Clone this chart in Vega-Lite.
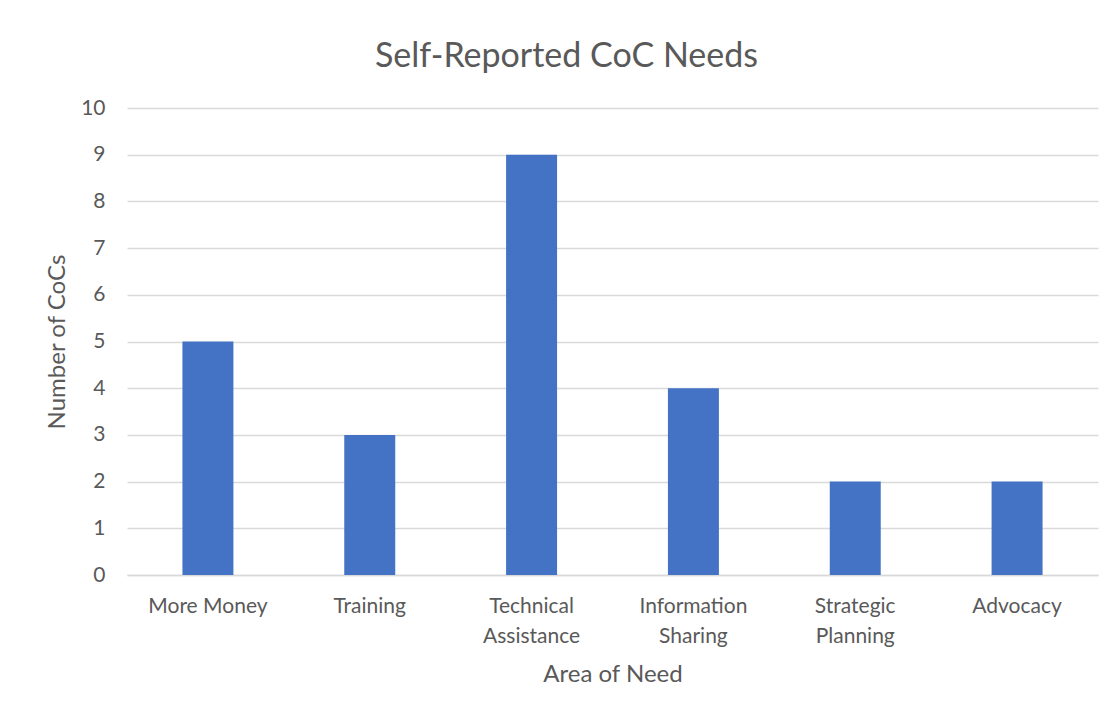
{
  "$schema": "https://vega.github.io/schema/vega-lite/v6.json",
  "width": 971,
  "height": 467,
  "autosize": {"type": "none"},
  "padding": {"left": 127, "top": 108, "right": 19, "bottom": 143},
  "background": "white",
  "title": {
    "text": "Self-Reported CoC Needs",
    "fontSize": 34,
    "font": "Lato",
    "fontWeight": "normal",
    "color": "#595959",
    "anchor": "middle",
    "dx": -46,
    "offset": 23
  },
  "data": {
    "values": [
      {"need": "More Money", "count": 5},
      {"need": "Training", "count": 3},
      {"need": "Technical Assistance", "count": 9},
      {"need": "Information Sharing", "count": 4},
      {"need": "Strategic Planning", "count": 2},
      {"need": "Advocacy", "count": 2}
    ]
  },
  "mark": {"type": "bar", "color": "#4472C4"},
  "encoding": {
    "x": {
      "field": "need",
      "type": "nominal",
      "sort": null,
      "scale": {"paddingInner": 0.685, "paddingOuter": 0.3425},
      "axis": {
        "title": "Area of Need",
        "labelAngle": 0,
        "labelExpr": "datum.label == 'More Money' ? datum.label : split(datum.label, ' ')",
        "labelLineHeight": 30,
        "labelPadding": 20,
        "labelBaseline": "top",
        "ticks": false,
        "domainColor": "#d9d9d9",
        "domainWidth": 1.5,
        "titlePadding": 16
      }
    },
    "y": {
      "field": "count",
      "type": "quantitative",
      "scale": {"domain": [0, 10]},
      "axis": {
        "title": "Number of CoCs",
        "values": [0, 1, 2, 3, 4, 5, 6, 7, 8, 9, 10],
        "labelOverlap": false,
        "ticks": false,
        "domain": false,
        "labelPadding": 22,
        "gridColor": "#d9d9d9",
        "gridWidth": 1.5,
        "titlePadding": 11
      }
    }
  },
  "config": {
    "font": "Lato",
    "view": {"stroke": null},
    "axis": {
      "labelFont": "Lato",
      "labelFontSize": 21,
      "labelColor": "#595959",
      "titleFont": "Lato",
      "titleFontSize": 24,
      "titleFontWeight": "normal",
      "titleColor": "#595959"
    }
  }
}
